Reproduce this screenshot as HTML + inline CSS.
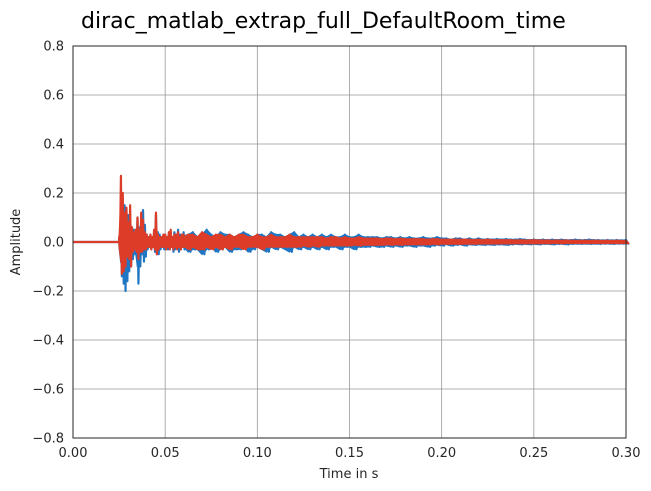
<!DOCTYPE html>
<html><head><meta charset="utf-8"><style>
html,body{margin:0;padding:0;background:#fff;}
svg{display:block;font-family:"DejaVu Sans","Liberation Sans",sans-serif;}
</style></head><body>
<svg id="chart" width="651" height="491" viewBox="0 0 651 491">
<text x="81" y="28" text-anchor="start" font-size="22" fill="#000">dirac_matlab_extrap_full_DefaultRoom_time</text>
<g id="grid"></g>
<g id="series"></g>
<rect x="73" y="46" width="553" height="392" fill="none" stroke="#262626" stroke-width="1"/>
<g id="ticks"></g>
<text x="349" y="478" text-anchor="middle" font-size="13" fill="#262626">Time in s</text>
<text x="20" y="242" text-anchor="middle" font-size="13" fill="#262626" transform="rotate(-90 20 242)">Amplitude</text>
</svg>
<script>
const xTicks=[0,0.05,0.10,0.15,0.20,0.25,0.30];
const xTickLabels=["0.00","0.05","0.10","0.15","0.20","0.25","0.30"];
const yTicks=[-0.8,-0.6,-0.4,-0.2,0,0.2,0.4,0.6,0.8];
const yTickLabels=["−0.8","−0.6","−0.4","−0.2","0.0","0.2","0.4","0.6","0.8"];
const onset=0.0255;
const earlyStart=0.025, earlyStep=0.001;
const lateStart=0.0625, lateStep=0.0025;
const blueEarlyHi=[0.02,0.14,0.16,0.15,0.12,0.11,0.08,0.06,0.05,0.04,0.10,0.06,0.05,0.13,0.07,0.03,0.02,0.03,0.02,0.04,0.11,0.04,0.03,0.02,0.02,0.03,0.02,0.03,0.04,0.02,0.04,0.03,0.05,0.03,0.02,0.04];
const blueEarlyLo=[-0.03,-0.14,-0.17,-0.20,-0.16,-0.12,-0.10,-0.07,-0.05,-0.06,-0.17,-0.10,-0.05,-0.08,-0.06,-0.03,-0.02,-0.03,-0.02,-0.04,-0.05,-0.05,-0.03,-0.02,-0.03,-0.02,-0.03,-0.03,-0.02,-0.04,-0.03,-0.02,-0.04,-0.03,-0.02,-0.03];
const redEarlyHi=[0.02,0.27,0.20,0.12,0.14,0.08,0.15,0.06,0.04,0.05,0.10,0.05,0.12,0.09,0.04,0.03,0.02,0.03,0.02,0.05,0.12,0.03,0.02,0.02,0.03,0.03,0.02,0.04,0.05,0.02,0.03,0.03,0.04,0.02,0.03,0.03];
const redEarlyLo=[-0.02,-0.13,-0.12,-0.10,-0.06,-0.07,-0.10,-0.04,-0.03,-0.04,-0.07,-0.04,-0.04,-0.03,-0.03,-0.02,-0.02,-0.03,-0.02,-0.03,-0.05,-0.03,-0.02,-0.02,-0.02,-0.03,-0.02,-0.03,-0.02,-0.03,-0.02,-0.03,-0.02,-0.03,-0.02,-0.02];
const blueLateHi=[0.03,0.04,0.02,0.03,0.05,0.03,0.02,0.04,0.03,0.03,0.02,0.03,0.04,0.03,0.02,0.03,0.03,0.02,0.04,0.03,0.03,0.02,0.03,0.04,0.02,0.03,0.02,0.03,0.02,0.03,0.02,0.03,0.02,0.02,0.03,0.02,0.02,0.03,0.02,0.02,0.02,0.02,0.015,0.02,0.02,0.015,0.02,0.015,0.02,0.015,0.015,0.02,0.015,0.015,0.02,0.015,0.015,0.01,0.015,0.015,0.01,0.015,0.01,0.015,0.01,0.012,0.01,0.012,0.01,0.012,0.01,0.01,0.012,0.01,0.008,0.01,0.008,0.01,0.008,0.01,0.008,0.01,0.008,0.008,0.01,0.008,0.008,0.01,0.008,0.008,0.007,0.008,0.007,0.008,0.007,0.008];
const blueLateLo=[-0.04,-0.03,-0.03,-0.05,-0.03,-0.02,-0.04,-0.03,-0.02,-0.04,-0.03,-0.03,-0.02,-0.04,-0.03,-0.02,-0.03,-0.04,-0.02,-0.03,-0.02,-0.03,-0.04,-0.02,-0.03,-0.02,-0.03,-0.02,-0.03,-0.02,-0.03,-0.02,-0.02,-0.03,-0.02,-0.02,-0.03,-0.02,-0.02,-0.02,-0.015,-0.02,-0.02,-0.015,-0.02,-0.015,-0.02,-0.015,-0.015,-0.02,-0.015,-0.015,-0.02,-0.015,-0.012,-0.015,-0.01,-0.015,-0.012,-0.01,-0.015,-0.01,-0.012,-0.01,-0.012,-0.01,-0.012,-0.01,-0.01,-0.012,-0.01,-0.008,-0.01,-0.008,-0.01,-0.008,-0.01,-0.008,-0.008,-0.01,-0.008,-0.008,-0.01,-0.008,-0.007,-0.008,-0.007,-0.008,-0.007,-0.008,-0.007,-0.007,-0.008,-0.007,-0.007,-0.007];
const redLateHi=[0.03,0.03,0.02,0.04,0.03,0.02,0.03,0.03,0.02,0.03,0.02,0.03,0.03,0.02,0.02,0.03,0.02,0.02,0.03,0.02,0.02,0.02,0.03,0.02,0.02,0.02,0.02,0.02,0.02,0.02,0.015,0.02,0.02,0.015,0.02,0.015,0.015,0.02,0.015,0.015,0.015,0.015,0.012,0.015,0.015,0.012,0.015,0.012,0.012,0.012,0.012,0.012,0.01,0.012,0.012,0.01,0.01,0.01,0.01,0.01,0.01,0.01,0.008,0.01,0.008,0.01,0.008,0.008,0.008,0.008,0.008,0.007,0.008,0.007,0.007,0.008,0.007,0.007,0.007,0.006,0.007,0.006,0.007,0.006,0.006,0.006,0.006,0.006,0.006,0.006,0.005,0.006,0.005,0.006,0.005,0.005];
const redLateLo=[-0.03,-0.02,-0.03,-0.03,-0.02,-0.03,-0.02,-0.03,-0.02,-0.03,-0.02,-0.02,-0.03,-0.02,-0.02,-0.02,-0.03,-0.02,-0.02,-0.02,-0.02,-0.02,-0.02,-0.02,-0.02,-0.015,-0.02,-0.015,-0.02,-0.015,-0.015,-0.015,-0.015,-0.015,-0.015,-0.015,-0.012,-0.015,-0.012,-0.012,-0.012,-0.012,-0.012,-0.01,-0.012,-0.01,-0.012,-0.01,-0.01,-0.01,-0.01,-0.01,-0.01,-0.008,-0.01,-0.008,-0.008,-0.008,-0.008,-0.008,-0.008,-0.007,-0.008,-0.007,-0.007,-0.007,-0.007,-0.007,-0.006,-0.007,-0.006,-0.006,-0.006,-0.006,-0.006,-0.006,-0.006,-0.005,-0.006,-0.005,-0.005,-0.006,-0.005,-0.005,-0.005,-0.005,-0.005,-0.005,-0.005,-0.005,-0.005,-0.005,-0.005,-0.005,-0.005,-0.005];

const X0=73,X1=626,Y0=46,Y1=438;
const xS=t=>X0+(t-0)/(0.30-0)*(X1-X0);
const yS=v=>Y1-(v-(-0.8))/(1.6)*(Y1-Y0);
const NS="http://www.w3.org/2000/svg";
const grid=document.getElementById('grid'), ticks=document.getElementById('ticks'), series=document.getElementById('series');
function mk(tag,attrs,parent){const e=document.createElementNS(NS,tag);for(const k in attrs)e.setAttribute(k,attrs[k]);parent.appendChild(e);return e;}
xTicks.forEach((t,i)=>{
  const gl=mk('line',{x1:xS(t),x2:xS(t),y1:Y0,y2:Y1,stroke:'#999',"stroke-width":0.8},grid);
  
  
  const tx=mk('text',{x:xS(t),y:Y1+19,"text-anchor":"middle","font-size":13,fill:'#262626'},ticks);
  tx.textContent=xTickLabels[i];
  
  
});
yTicks.forEach((v,i)=>{
  const gl=mk('line',{x1:X0,x2:X1,y1:yS(v),y2:yS(v),stroke:'#999',"stroke-width":0.8},grid);
  
  
  const tx=mk('text',{x:X0-9,y:yS(v)+4.5,"text-anchor":"end","font-size":13,fill:'#262626'},ticks);
  tx.textContent=yTickLabels[i];
  
  
});
function build(eh,el,lh,ll){
  let d=`M${xS(0)},${yS(0)} L${xS(onset)},${yS(0)}`;
  eh.forEach((h,i)=>{const t=earlyStart+i*earlyStep;d+=` L${xS(t)},${yS(h)} L${xS(t+earlyStep/2)},${yS(el[i])}`;});
  lh.forEach((h,i)=>{const t=lateStart+i*lateStep;d+=` L${xS(t)},${yS(h)} L${xS(t+lateStep/2)},${yS(ll[i])}`;});
  d+=` L${xS(0.3)},${yS(0)}`;
  return d;
}
function band(eh,el,lh,ll){
  const top=[],bot=[];
  eh.forEach((h,i)=>{const t=earlyStart+i*earlyStep;top.push(`${xS(t)},${yS(h*0.6)}`);bot.unshift(`${xS(t)},${yS(el[i]*0.6)}`);});
  lh.forEach((h,i)=>{const t=lateStart+i*lateStep;top.push(`${xS(t)},${yS(h)}`);bot.unshift(`${xS(t)},${yS(ll[i])}`);});
  return 'M'+top.concat(bot).join(' L')+' Z';
}
const fb=mk('path',{d:band(blueEarlyHi,blueEarlyLo,blueLateHi,blueLateLo),fill:'#1f77c4',stroke:'#1f77c4',"stroke-width":1.5},series);


const pb=mk('path',{d:build(blueEarlyHi,blueEarlyLo,blueLateHi,blueLateLo),fill:'none',stroke:'#1f77c4',"stroke-width":2.2,"stroke-linejoin":"round"},series);


const fr=mk('path',{d:band(redEarlyHi,redEarlyLo,redLateHi,redLateLo),fill:'#dc3c28',stroke:'#dc3c28',"stroke-width":1.5},series);


const pr=mk('path',{d:build(redEarlyHi,redEarlyLo,redLateHi,redLateLo),fill:'none',stroke:'#dc3c28',"stroke-width":2.2,"stroke-linejoin":"round"},series);


</script>
</body></html>
